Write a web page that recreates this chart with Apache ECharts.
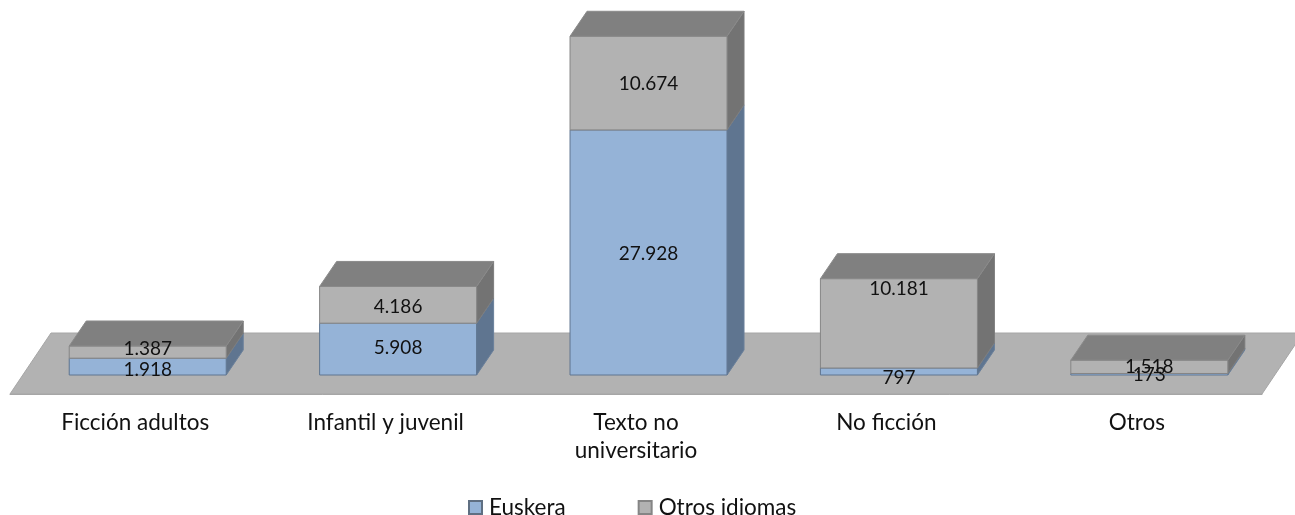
<!DOCTYPE html>
<html>
<head>
<meta charset="utf-8">
<title>Euskera / Otros idiomas</title>
<script src="https://cdn.jsdelivr.net/npm/echarts@6/dist/echarts.min.js"></script>
<style>
	html, body { margin: 0; padding: 0; background: #fff; }
	#chart { width: 1295px; height: 515px; }
</style>
</head>
<body>
<div id="chart"></div>
<script>
var categories = ['Ficción adultos', 'Infantil y juvenil', 'Texto no\nuniversitario', 'No ficción', 'Otros'];
var euskera = [1918, 5908, 27928, 797, 173];
var otrosIdiomas = [1387, 4186, 10674, 10181, 1518];
var euskeraLabels = ['1.918', '5.908', '27.928', '797', '173'];
var otrosLabels = ['1.387', '4.186', '10.674', '10.181', '1.518'];

// Excel coloca algunas etiquetas fuera del centro del segmento
var euskeraLabelDy = [3, -1, 1, 6, 1];
var otrosLabelDy = [-3, 2, 1, -34, 0];

// profundidad de la caja 3D y del suelo
var depthX = 17;
var depthY = 25;
var floorDrop = 19;
var floorDepthX = 41;
var floorDepthY = 61;

var fontName = 'Lato, "Noto Sans", sans-serif';

function poly(points, fill, stroke) {
	return {
		type: 'polygon',
		shape: { points: points },
		style: { fill: fill, stroke: stroke, lineWidth: 1 }
	};
}

// dibuja un segmento de la columna: frente, lateral y (opcional) tapa
function makeRender(base, colors, labels, labelDy, withTop) {
	return function (params, api) {
		var i = api.value(0);
		var v = api.value(1);
		var start = base ? base[i] : 0;
		var band = api.size([1, 0])[0];
		var w = band * 0.627;
		var p0 = api.coord([i, start]);
		var p1 = api.coord([i, start + v]);
		var x1 = p0[0] + band * 0.05 - w / 2;
		var x2 = x1 + w;
		var y0 = p0[1];
		var y1 = p1[1];
		var children = [
			poly([[x2, y0], [x2 + depthX, y0 - depthY], [x2 + depthX, y1 - depthY], [x2, y1]], colors.side, colors.sideStroke),
			poly([[x1, y0], [x2, y0], [x2, y1], [x1, y1]], colors.front, colors.stroke)
		];
		if (withTop) {
			children.push(poly([[x1, y1], [x2, y1], [x2 + depthX, y1 - depthY], [x1 + depthX, y1 - depthY]], colors.top, colors.topStroke));
		}
		children.push({
			type: 'text',
			z2: 100,
			style: {
				text: labels[i],
				x: (x1 + x2) / 2,
				y: (y0 + y1) / 2 + labelDy[i],
				align: 'center',
				verticalAlign: 'middle',
				fill: '#111',
				font: '19px ' + fontName
			}
		});
		return { type: 'group', children: children };
	};
}

function renderFloor(params, api) {
	var cs = params.coordSys;
	var y = api.coord([0, 0])[1] + floorDrop;
	var left = cs.x;
	var right = cs.x + cs.width;
	return poly([
		[left, y],
		[right, y],
		[right + floorDepthX, y - floorDepthY],
		[left + floorDepthX, y - floorDepthY]
	], '#b2b2b2', '#a6a6a6');
}

var blueColors = { front: '#95b3d7', side: '#5f7590', stroke: '#5f7590', sideStroke: '#6a809b' };
var greyColors = { front: '#b2b2b2', side: '#737373', top: '#808080', stroke: '#858585', sideStroke: '#7d7d7d', topStroke: '#8a8a8a' };

var myChart = echarts.init(document.getElementById('chart'), null, { renderer: 'canvas' });

var option = {
	animation: false,
	backgroundColor: '#fff',
	textStyle: { fontFamily: fontName },
	grid: { left: 10, right: 33, top: 24, bottom: 140 },
	legend: {
		left: 463,
		top: 491,
		itemWidth: 13,
		itemHeight: 13,
		itemGap: 72,
		icon: 'rect',
		selectedMode: false,
		textStyle: { color: '#111', fontSize: 22.5, fontFamily: fontName, padding: [0, 0, 0, 2] },
		data: ['Euskera', 'Otros idiomas']
	},
	xAxis: {
		type: 'category',
		data: categories,
		offset: floorDrop,
		z: 1,
		axisLine: { onZero: false, lineStyle: { color: '#a6a6a6', width: 1 } },
		axisTick: { length: 7, lineStyle: { color: '#a6a6a6' } },
		axisLabel: { interval: 0, color: '#111', fontSize: 22.5, lineHeight: 28, margin: 15, fontFamily: fontName }
	},
	yAxis: { type: 'value', min: 0, max: 40000, show: false },
	series: [
		{
			name: 'floor',
			type: 'custom',
			silent: true,
			z: 0,
			data: [[0, 0]],
			renderItem: renderFloor
		},
		{
			name: 'Euskera',
			type: 'custom',
			z: 2,
			itemStyle: { color: '#95b3d7', borderColor: '#5f6f82', borderWidth: 1.5 },
			data: euskera.map(function (v, i) { return [i, v]; }),
			renderItem: makeRender(null, blueColors, euskeraLabels, euskeraLabelDy, false)
		},
		{
			name: 'Otros idiomas',
			type: 'custom',
			z: 2,
			itemStyle: { color: '#b2b2b2', borderColor: '#858585', borderWidth: 1.5 },
			data: otrosIdiomas.map(function (v, i) { return [i, v]; }),
			renderItem: makeRender(euskera, greyColors, otrosLabels, otrosLabelDy, true)
		}
	]
};

myChart.setOption(option);
</script>
</body>
</html>
